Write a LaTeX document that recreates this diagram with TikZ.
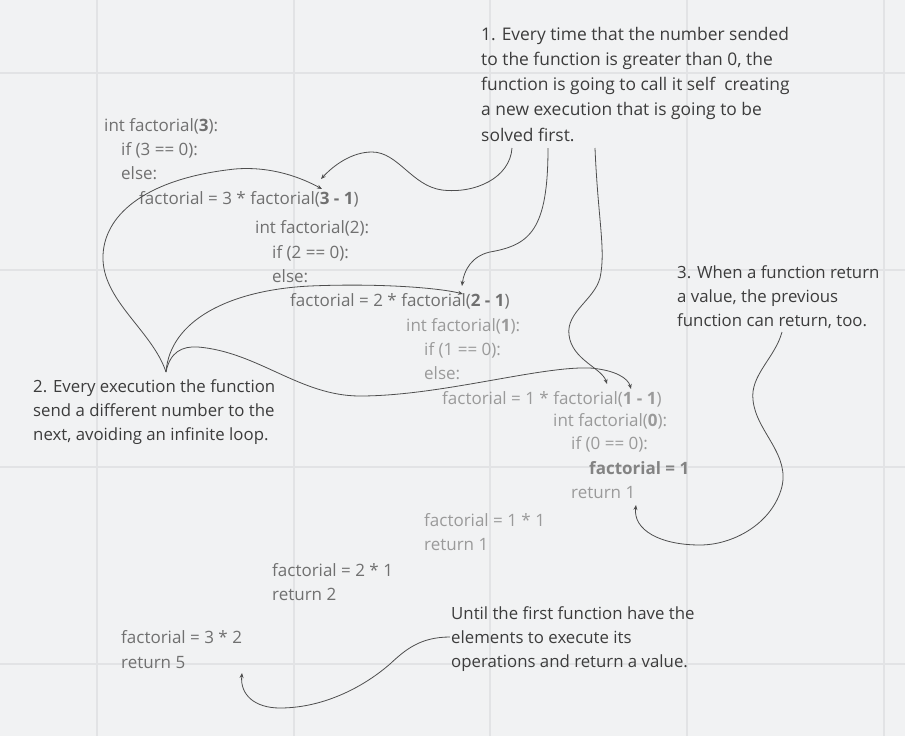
\documentclass[tikz,border=0pt]{standalone}
\usepackage{fontspec}
\setmainfont{Open Sans}
\usetikzlibrary{arrows.meta}
\definecolor{bg}{HTML}{F1F2F3}
\definecolor{gridc}{HTML}{E2E3E5}
\definecolor{codec}{HTML}{707070}
\definecolor{codel}{HTML}{9A9A9A}
\definecolor{notec}{HTML}{3C3C3C}
\definecolor{linec}{HTML}{4E4E4E}
\begin{document}
\begin{tikzpicture}[x=1pt,y=-1pt,
  code/.style={anchor=base west, inner sep=0pt, text=codec, font=\fontsize{17}{24}\selectfont},
  codelight/.style={code, text=codel},
  note/.style={anchor=north west, inner sep=0pt, align=left, text=notec},
  conn/.style={draw=linec, line width=0.8pt, -{Stealth[length=5pt,width=4pt]}},
  gridline/.style={draw=gridc, line width=1.2pt}]
\useasboundingbox (0,0) rectangle (905,736);
\fill[bg] (0,0) rectangle (905,736);
% grid
\foreach \gx in {97,294,490,687,884} \draw[gridline] (\gx,0) -- (\gx,736);
\foreach \gy in {73,270,467,664} \draw[gridline] (0,\gy) -- (905,\gy);

% code: factorial(3)
\node[code] (a1) at (104,131) {int factorial(\textbf{3}):};
\node[code] (a2) at (121,155.5) {if (3 == 0):};
\node[code] (a3) at (121,179.5) {else:};
\node[code] (a4) at (139,204) {factorial = 3 * factorial(\textbf{3 - 1})};
% factorial(2)
\node[code] (b1) at (255,233) {int factorial(2):};
\node[code] (b2) at (272,258) {if (2 == 0):};
\node[code] (b3) at (272,282.5) {else:};
\node[code] (b4) at (290,306.5) {factorial = 2 * factorial(\textbf{2 - 1})};
% factorial(1)
\node[codelight] (c1) at (406,331.5) {int factorial(\textbf{1}):};
\node[codelight] (c2) at (424,355.5) {if (1 == 0):};
\node[codelight] (c3) at (424,379.5) {else:};
\node[codelight] (c4) at (442,404) {factorial = 1 * factorial(\textbf{1 - 1})};
% factorial(0)
\node[codelight] (d1) at (553,426) {int factorial(\textbf{0}):};
\node[codelight] (d2) at (571,449.5) {if (0 == 0):};
\node[codelight, text=codel!85!black] (d3) at (589,474) {\textbf{factorial = 1}};
\node[codelight] (d4) at (571,498) {return 1};
% returns
\node[codelight] (e1) at (424,526) {factorial = 1 * 1};
\node[codelight] (e2) at (424,550) {return 1};
\node[code] (f1) at (272,576) {factorial = 2 * 1};
\node[code] (f2) at (272,600) {return 2};
\node[code] (g1) at (121,643) {factorial = 3 * 2};
\node[code] (g2) at (121,668) {return 5};

% notes
\node[note, font=\fontsize{17.4}{25.2}\selectfont] (n1) at (481,22.4)
  {\strut 1. Every time that the number sended\\to the function is greater than 0, the\\function is going to call it self\ \ creating\\a new execution that is going to be\\solved first.};
\node[note, font=\fontsize{16.8}{24.2}\selectfont] (n2) at (33,375.3)
  {\strut 2. Every execution the function\\send a different number to the\\next, avoiding an infinite loop.};
\node[note, font=\fontsize{16.8}{24.2}\selectfont] (n3) at (677,261.4)
  {\strut 3. When a function return\\a value, the previous\\function can return, too.};
\node[note, font=\fontsize{16.8}{24.2}\selectfont] (n4) at (451,602.4)
  {\strut Until the first function have the\\elements to execute its\\operations and return a value.};

% connector end points
\coordinate (s1) at (512,148);
\coordinate (t1) at (321,179);
\coordinate (s2) at (548,148);
\coordinate (t2) at (462,286);
\coordinate (s3) at (595,148);
\coordinate (t3) at (607,384);
\coordinate (cusp) at (166,372);
\coordinate (t4a) at (322,189);
\coordinate (t4b) at (463,294);
\coordinate (t4c) at (631,389);
\coordinate (s5) at (782,332);
\coordinate (t5) at (636,505);
\coordinate (s6) at (450,637);
\coordinate (t6) at (242,673);

% note 1 connectors
\draw[conn] (s1) .. controls (510,178) and (475,194) .. (442,190)
  .. controls (412,186) and (398,152) .. (372,152)
  .. controls (352,152) and (334,165) .. (t1);
\draw[conn] (s2) .. controls (548,230) and (530,245) .. (490,252)
  .. controls (472,256) and (464,270) .. (t2);
\draw[conn] (s3) .. controls (598,220) and (606,250) .. (600,278)
  .. controls (594,300) and (566,312) .. (569,335)
  .. controls (572,360) and (602,368) .. (t3);
% note 2 connectors
\draw[conn] (cusp) .. controls (152,330) and (101,300) .. (103,255)
  .. controls (105,212) and (150,178) .. (235,169)
  .. controls (272,166) and (302,178) .. (t4a);
\draw[conn] (cusp) .. controls (170,320) and (230,290) .. (310,286)
  .. controls (380,283) and (440,288) .. (t4b);
\draw[conn] (cusp) .. controls (170,352) and (182,346) .. (198,347)
  .. controls (258,352) and (300,396) .. (360,396)
  .. controls (440,396) and (540,366) .. (590,368)
  .. controls (615,370) and (628,378) .. (t4c);
% note 3 connector
\draw[conn] (s5) .. controls (775,358) and (750,375) .. (753,400)
  .. controls (756,432) and (792,455) .. (781,490)
  .. controls (770,525) and (732,545) .. (700,545)
  .. controls (660,545) and (633,530) .. (t5);
% note 4 connector
\draw[conn] (s6) .. controls (420,637) and (405,650) .. (390,664)
  .. controls (360,690) and (320,708) .. (280,708)
  .. controls (255,708) and (240,695) .. (t6);
\end{tikzpicture}
\end{document}
